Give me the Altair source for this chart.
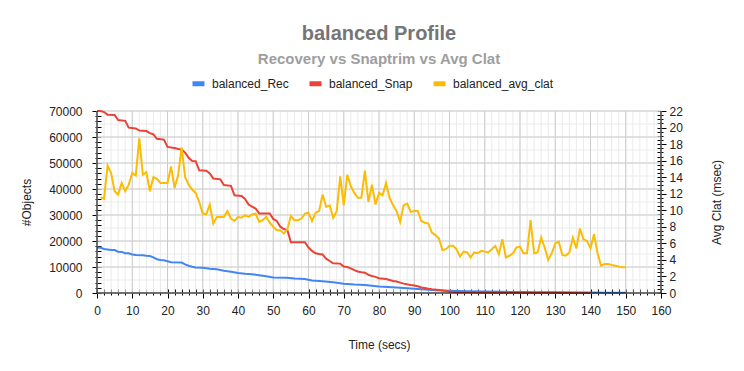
import altair as alt
import pandas as pd

series_names = ["balanced_Rec", "balanced_Snap", "balanced_avg_clat"]
series_colors = ["#4285f4", "#ea4335", "#fbbc04"]

rec_secs = [0, 1, 2, 4, 5, 6, 7, 8, 9, 10, 11, 13, 14, 15, 16, 17, 18, 19, 20, 21, 24, 25, 26, 27, 28,
            30, 32, 34, 36, 38, 40, 42, 44, 46, 48, 50, 54, 56, 59, 61, 64, 67, 70, 73, 76, 80, 85,
            90, 95, 100, 105, 110, 115, 120, 125, 130, 135, 140, 145, 150]
rec_vals = [17500, 17400, 16900, 16500, 16500, 15900, 15800, 15300, 15300, 14800, 14600, 14500, 14300,
            14200, 13700, 13000, 12700, 12600, 12200, 11800, 11700, 11000, 10500, 10100, 9800, 9700,
            9300, 9100, 8600, 8200, 7700, 7400, 7200, 6800, 6400, 6000, 5900, 5600, 5400, 4800, 4500,
            4100, 3600, 3300, 3100, 2500, 2100, 1600, 1200, 900, 700, 550, 450, 350, 300, 250, 200,
            150, 100, 50]

snap_secs = [0, 1, 2, 3, 5, 6, 8, 9, 11, 12, 14, 15, 16, 17, 19, 20, 22, 23, 24, 25, 26, 27, 28, 29,
             31, 32, 33, 35, 36, 38, 39, 41, 42, 43, 44, 45, 46, 49, 50, 51, 52, 53, 54, 55, 59, 60,
             61, 62, 63, 64, 65, 66, 67, 69, 70, 71, 72, 73, 74, 75, 76, 77, 78, 79, 80, 82, 83, 84,
             85, 86, 87, 89, 90, 91, 92, 93, 94, 95, 97, 98, 99, 100, 101, 102, 105, 110, 120, 130,
             140]
snap_vals = [70000, 70000, 69600, 68600, 68500, 66500, 66200, 63600, 63300, 62500, 62300, 61500, 61000,
             59300, 59000, 56200, 55800, 55400, 55200, 54000, 52000, 50800, 50700, 47200, 47000, 46000,
             44000, 43700, 41500, 41200, 37600, 37300, 36200, 34000, 33200, 32500, 30600, 30600, 28500,
             27700, 25500, 24600, 24200, 19500, 19500, 17500, 16200, 15300, 15000, 14800, 13200, 12300,
             11400, 11300, 10200, 10000, 9500, 8800, 8300, 8000, 7800, 7000, 6500, 6200, 5700, 5400,
             5000, 4600, 4400, 4000, 3600, 3100, 2900, 2600, 2100, 1900, 1600, 1400, 1200, 1000, 800,
             600, 450, 300, 250, 180, 100, 50, 20]

clat_secs = list(range(1, 151))
clat_vals = [11.6, 11.4, 15.4, 14.5, 12.3, 11.9, 13.3, 12.3, 13.1, 14.5,
             14.2, 18.7, 14.3, 14.6, 12.3, 14.0, 13.8, 13.3, 13.3, 13.3,
             15.3, 12.7, 14.2, 17.6, 14.0, 13.1, 12.5, 12.1, 11.0, 9.6,
             9.5, 10.7, 8.4, 9.2, 9.2, 9.2, 9.9, 9.0, 8.7, 9.2,
             9.1, 9.4, 9.2, 9.5, 9.6, 8.6, 8.8, 9.2, 8.5, 8.0,
             7.6, 7.6, 7.2, 7.7, 9.3, 8.8, 8.8, 9.0, 9.6, 9.7,
             8.7, 9.7, 9.9, 11.9, 10.4, 10.6, 9.1, 9.9, 14.1, 10.6,
             14.3, 12.9, 12.1, 11.5, 11.5, 14.8, 11.0, 13.1, 10.7, 12.1,
             11.8, 13.3, 11.5, 10.6, 9.9, 8.6, 10.6, 10.8, 9.8, 9.9,
             9.9, 8.7, 8.5, 8.4, 7.3, 7.0, 6.6, 5.2, 5.3, 5.7,
             5.7, 5.3, 4.4, 5.0, 4.9, 4.3, 4.9, 4.8, 5.1, 5.0,
             4.9, 5.3, 5.7, 4.7, 6.5, 4.3, 4.5, 4.8, 5.5, 5.6,
             4.8, 4.8, 8.8, 4.8, 4.9, 6.7, 5.5, 4.0, 4.8, 6.0,
             6.2, 4.6, 4.5, 4.9, 6.7, 5.4, 7.8, 6.5, 6.3, 5.4,
             7.1, 4.8, 3.3, 3.5, 3.5, 3.4, 3.3, 3.2, 3.1, 3.1]

x_ticks = list(range(0, 161, 2))
x_grid_minor = list(range(0, 161, 2))
x_grid_major = list(range(0, 161, 10))
left_ticks = list(range(0, 70001, 2000))
y_grid_minor = list(range(0, 70001, 5000))
y_grid_major = list(range(0, 70001, 10000))
right_ticks = [i / 2 for i in range(0, 45)]

W, H = 564, 182
FONT = "Liberation Sans"

left_df = pd.concat([
    pd.DataFrame({"sec": rec_secs, "value": rec_vals, "series": series_names[0]}),
    pd.DataFrame({"sec": snap_secs, "value": snap_vals, "series": series_names[1]}),
])
right_df = pd.DataFrame({"sec": clat_secs, "clat": clat_vals, "series": series_names[2]})
one = pd.DataFrame({"z": [0]})


def xs():
    return alt.Scale(domain=[0, 160], nice=False, zero=False)


def yls():
    return alt.Scale(domain=[0, 70000], nice=False)


color = alt.Color(
    "series:N",
    scale=alt.Scale(domain=series_names, range=series_colors),
    legend=alt.Legend(
        title=None, orient="none", legendX=93, legendY=-36, direction="horizontal",
        symbolType="M-1,0H1", symbolSize=144, symbolStrokeWidth=5,
        labelFont=FONT, labelFontSize=12, labelColor="#222222", labelOffset=5,
        columnPadding=10, padding=0,
    ),
)

x_axis = alt.Axis(
    values=x_ticks, title="Time (secs)", orient="bottom", offset=-4, grid=False,
    labelExpr="datum.value % 10 === 0 ? datum.label : ''",
    tickSize={"condition": {"test": "datum.value % 10 === 0", "value": 9}, "value": 6},
    labelPadding=7, titlePadding=23, labelFlush=False, labelOverlap=False, labelBound=False,
)

y_left_axis = alt.Axis(
    values=left_ticks, title="#Objects", orient="left", offset=-4, format="d", grid=False,
    labelExpr="datum.value % 10000 === 0 ? datum.label : ''",
    tickSize={"condition": {"test": "datum.value % 10000 === 0", "value": 9}, "value": 6},
    labelPadding=10, titlePadding=15, labelOverlap=False, labelBound=False, labelFlush=False,
)

y_right_axis = alt.Axis(
    values=right_ticks, title="Avg Clat (msec)", orient="right", offset=-4, grid=False,
    format=".0f",
    labelExpr="datum.value % 2 === 0 ? datum.label : ''",
    tickSize={"condition": {"test": "datum.value % 2 === 0", "value": 9}, "value": 6},
    labelPadding=3, titlePadding=41, titleAngle=270, labelOverlap=False, labelBound=False,
    labelFlush=False,
)

gx_minor = alt.Chart(pd.DataFrame({"g": x_grid_minor})).mark_rule(color="#ebebeb", strokeWidth=1).encode(
    x=alt.X("g:Q", scale=xs(), axis=None)
)
gx_major = alt.Chart(pd.DataFrame({"g": x_grid_major})).mark_rule(color="#cccccc", strokeWidth=1).encode(
    x=alt.X("g:Q", scale=xs(), axis=None)
)
gy_minor = alt.Chart(pd.DataFrame({"g": y_grid_minor})).mark_rule(color="#ebebeb", strokeWidth=1).encode(
    y=alt.Y("g:Q", scale=yls(), axis=None)
)
gy_major = alt.Chart(pd.DataFrame({"g": y_grid_major})).mark_rule(color="#cccccc", strokeWidth=1).encode(
    y=alt.Y("g:Q", scale=yls(), axis=None)
)

left_lines = alt.Chart(left_df).mark_line(strokeWidth=2).encode(
    x=alt.X("sec:Q", scale=xs(), axis=x_axis),
    y=alt.Y("value:Q", scale=yls(), axis=y_left_axis),
    color=color,
    detail="series:N",
)

right_lines = alt.Chart(right_df).mark_line(strokeWidth=2).encode(
    x=alt.X("sec:Q", scale=xs(), axis=None),
    y=alt.Y("clat:Q", scale=alt.Scale(domain=[0, 22], nice=False), axis=y_right_axis),
    color=color,
)

bottom_line = alt.Chart(one).mark_rule(color="#000000", strokeWidth=1).encode(
    y=alt.Y("z:Q", scale=yls(), axis=None), x=alt.value(0), x2=alt.value(W)
)
side_lines = alt.Chart(pd.DataFrame({"s": [0, 160]})).mark_rule(color="#000000", strokeWidth=1).encode(
    x=alt.X("s:Q", scale=xs(), axis=None)
)

chart = alt.layer(
    gx_minor, gy_minor, gx_major, gy_major, left_lines, right_lines, bottom_line, side_lines
).resolve_scale(y="independent").resolve_axis(x="independent", y="independent").properties(
    width=W, height=H,
    autosize=alt.AutoSizeParams(type="none"),
    padding={"left": 89, "top": 103, "right": 75, "bottom": 70},
    background="white",
    title=alt.TitleParams(
        text="balanced Profile", subtitle="Recovery vs Snaptrim vs Avg Clat",
        anchor="middle", frame="group", font=FONT, fontSize=20, fontWeight="bold",
        color="#757575", subtitleFont=FONT, subtitleFontSize=15, subtitleFontWeight="bold",
        subtitleColor="#9e9e9e", subtitlePadding=8, offset=8,
    ),
).configure_view(stroke=None).configure_axis(
    labelFont=FONT, labelFontSize=12, labelColor="#222222",
    titleFont=FONT, titleFontSize=12, titleColor="#222222", titleFontWeight="normal",
    tickColor="#000000", tickWidth=1, domain=False,
)

chart.save("out.html", embed_options={"renderer": "svg", "actions": False})
